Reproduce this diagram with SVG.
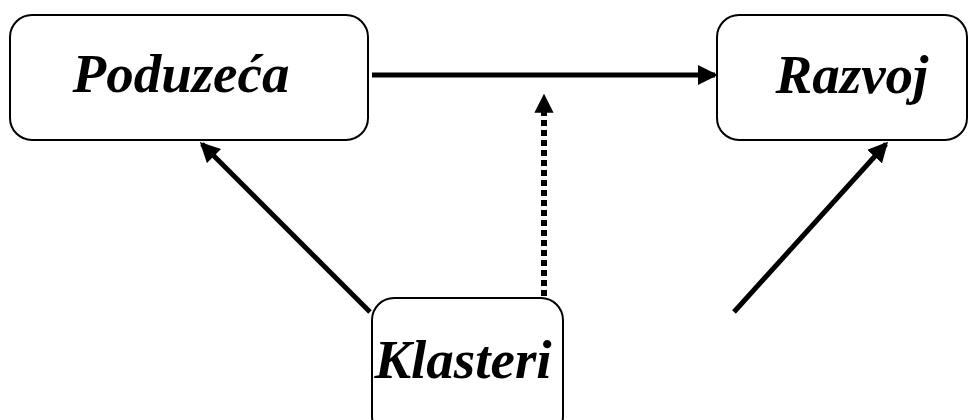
<svg xmlns="http://www.w3.org/2000/svg" width="980" height="420" viewBox="0 0 980 420">
<style>
.box{fill:#fff;stroke:#000;stroke-width:2}
.lbl{font-family:"Liberation Serif","Times New Roman",serif;font-weight:bold;font-style:italic;font-size:55px;fill:#000;text-anchor:middle}
.con{stroke:#000;stroke-width:5;fill:none}
.dash{stroke-width:6;stroke-dasharray:6 4}
</style>
<defs>
<marker id="ah" markerWidth="4" markerHeight="4" refX="3.4" refY="2" orient="auto" markerUnits="strokeWidth">
<path d="M0,0 L4,2 L0,4 Z" fill="#000"/>
</marker>
<marker id="ahd" markerWidth="3.2" markerHeight="3.2" refX="2.8" refY="1.6" orient="auto" markerUnits="strokeWidth">
<path d="M0,0 L3.2,1.6 L0,3.2 Z" fill="#000"/>
</marker>
</defs>
<rect width="980" height="420" fill="#fff"/>
<g id="connectors">
<line class="con" x1="372" y1="75" x2="715" y2="75" marker-end="url(#ah)"/>
<line class="con dash" x1="544" y1="296" x2="544" y2="96" marker-end="url(#ahd)"/>
<line class="con" x1="370" y1="312" x2="202" y2="144" marker-end="url(#ah)"/>
<line class="con" x1="734" y1="312" x2="886" y2="144" marker-end="url(#ah)"/>
</g>
<g id="klasteri">
<rect class="box" x="372" y="298" width="191" height="140" rx="22"/>
<text class="lbl" x="463" y="378">Klasteri</text>
</g>
<g id="poduzeca">
<rect class="box" x="10" y="15" width="358" height="125" rx="22"/>
<text class="lbl" x="181" y="92">Poduzeća</text>
</g>
<g id="razvoj">
<rect class="box" x="717" y="15" width="250" height="125" rx="22"/>
<text class="lbl" x="852" y="93">Razvoj</text>
</g>
</svg>
